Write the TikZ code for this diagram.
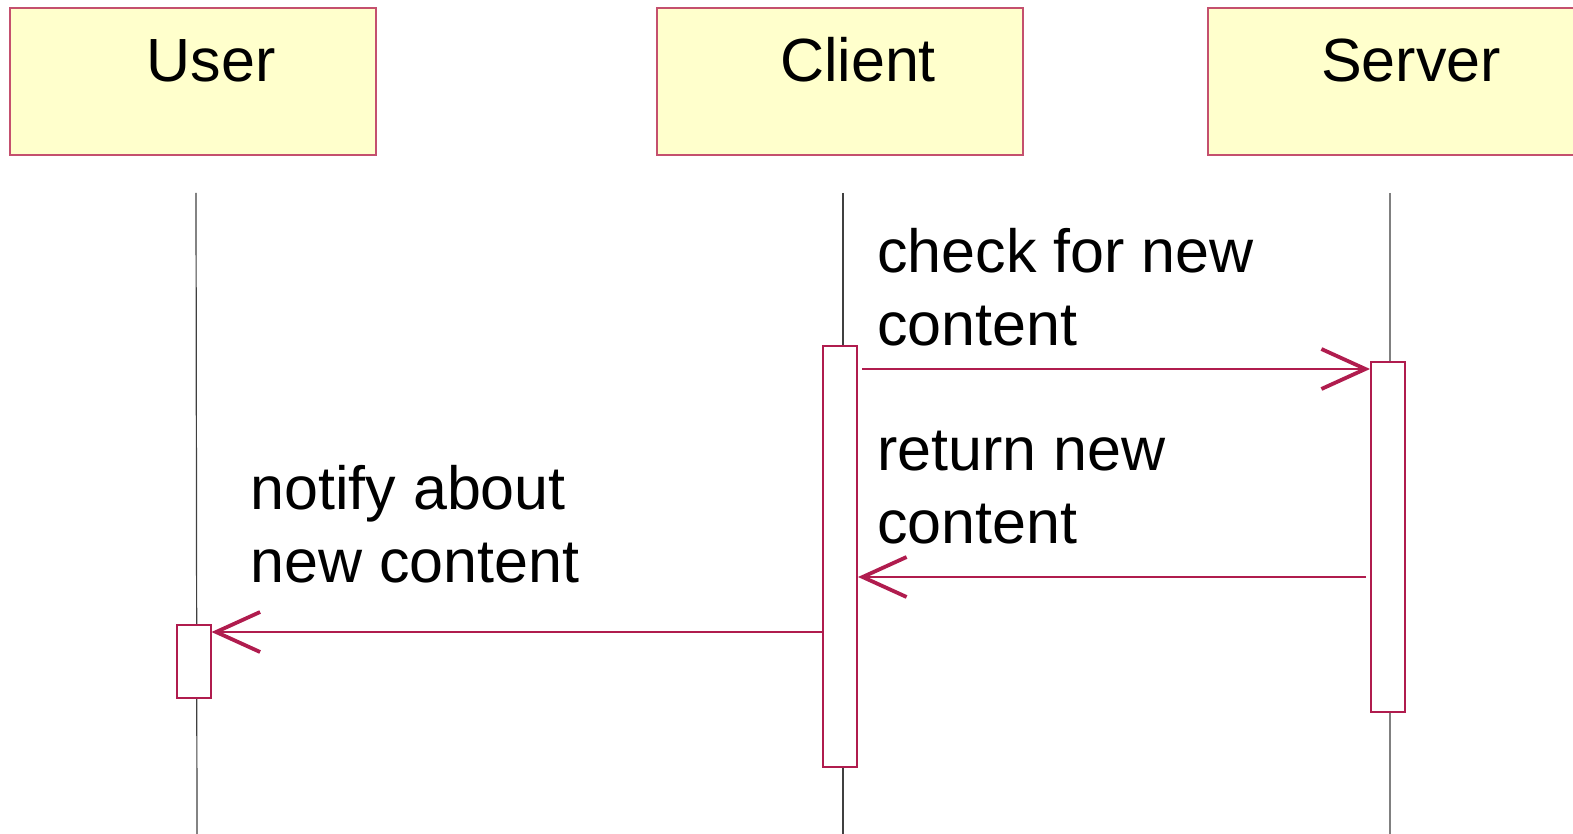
\documentclass[tikz,border=0pt]{standalone}
\usepackage{fontspec}
\setmainfont{Liberation Sans}
\usetikzlibrary{arrows.meta}
\definecolor{umlred}{RGB}{176,28,78}
\definecolor{headfill}{RGB}{255,255,204}
\definecolor{headline}{RGB}{196,80,110}

\begin{document}
\begin{tikzpicture}[x=0.5pt,y=-0.5pt,
	head/.style={draw=headline,fill=headfill,line width=1pt,minimum width=183pt,minimum height=73.5pt,inner sep=0pt},
	title/.style={font=\fontsize{30.5}{36.5}\selectfont,anchor=base,inner sep=0pt},
	act/.style={draw=umlred,fill=white,line width=1pt,minimum width=17pt,inner sep=0pt},
	life/.style={black!75,line width=0.6pt},
	msg/.style={umlred,line width=0.9pt,-{Straight Barb[length=22pt,width=20pt,line width=1.9pt]}},
	lbl/.style={font=\fontsize{30.5}{36.5}\selectfont,align=left,anchor=base west,inner sep=0pt}]
	\useasboundingbox (0,0) rectangle (1573,834);
	% participants
	\node[head] (user) at (193,81.5) {};
	\node[head] (client) at (840,81.5) {};
	\node[head] (server) at (1391,81.5) {};
	\node[title] (usertitle) at (211,82) {User};
	\node[title] (clienttitle) at (858,82) {Client};
	\node[title] (servertitle) at (1411,82) {Server};
	% lifelines
	\coordinate (usertop) at (196,193);
	\coordinate (userbot) at (197,834);
	\coordinate (clienttop) at (843,193);
	\coordinate (clientbot) at (843,834);
	\coordinate (servertop) at (1390,193);
	\coordinate (serverbot) at (1390,834);
	\draw[life] (usertop) -- (userbot);
	\draw[life] (clienttop) -- (clientbot);
	\draw[life,black!50] (servertop) -- (serverbot);
	% activations
	\node[act,minimum height=36.5pt] (useract) at (193.5,661.5) {};
	\node[act,minimum height=210.5pt] (clientact) at (840,556.5) {};
	\node[act,minimum height=175pt] (serveract) at (1388,537) {};
	% messages
	\coordinate (check) at (0,369);
	\coordinate (reply) at (0,577);
	\coordinate (notify) at (0,632);
	\draw[msg] ([xshift=2pt]clientact.east |- check) -- (serveract.west |- check);
	\draw[msg] ([xshift=-2pt]serveract.west |- reply) -- (clientact.east |- reply);
	\draw[msg] (clientact.west |- notify) -- (useract.east |- notify);
	% (base = last line)
	\node[lbl] (checklbl) at (877,345) {check for new\\content};
	\node[lbl] (replylbl) at (877,543) {return new\\content};
	\node[lbl] (notifylbl) at (250,582) {notify about\\new content};
\end{tikzpicture}
\end{document}
